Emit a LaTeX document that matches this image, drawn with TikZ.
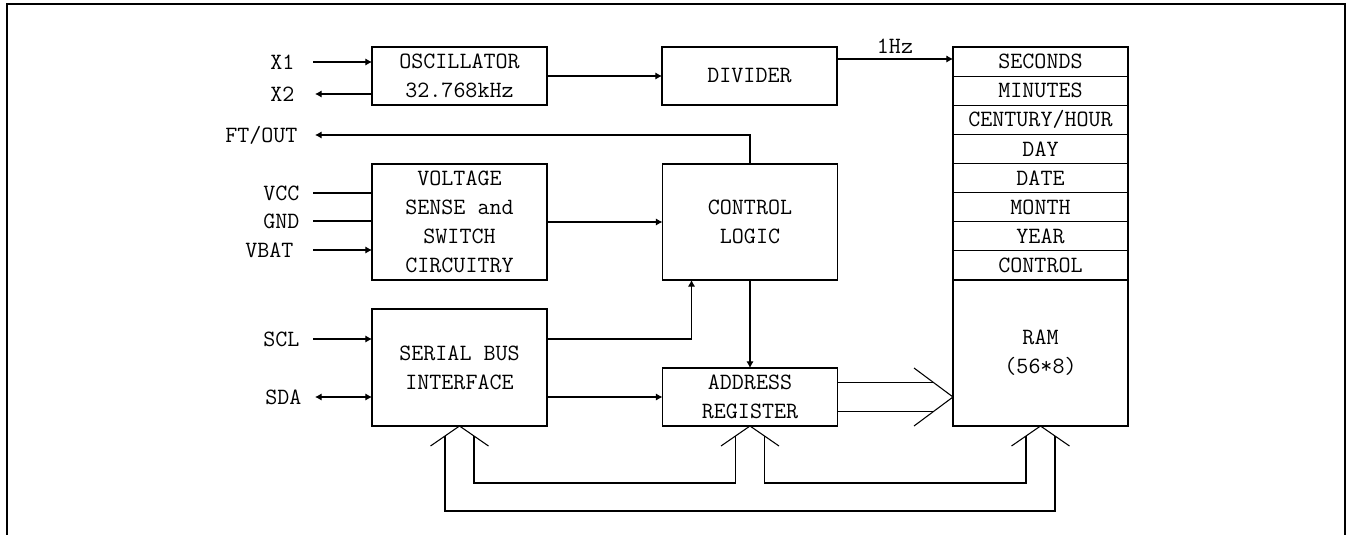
\documentclass[tikz,border=0pt]{standalone}
\usepackage{fontspec}
\usetikzlibrary{arrows.meta,calc}
\newdimen\pxu \pxu=0.75pt
\newcommand\dglbl{\ttfamily\fontsize{17.5}{21.75}\selectfont}
\begin{document}
\begin{tikzpicture}[x=0.75pt,y=-0.75pt,line width=0.8pt,
  box/.style={draw,inner sep=0pt,outer sep=0pt,minimum width=175\pxu,align=center,font=\dglbl},
  lbl/.style={font=\dglbl,inner sep=0pt},
  arr/.style={-{Latex[length=5pt,width=5.5pt]}},
  darr/.style={{Latex[length=5pt,width=5.5pt]}-{Latex[length=5pt,width=5.5pt]}},
  frame/.style={line width=1.5pt}]
\useasboundingbox (0,0) rectangle (1347,535);
\draw[frame] (7,535) -- (7,4) -- (1345,4) -- (1345,535);

% blocks
\node[box,minimum height=58\pxu] (osc) at (459.5,76) {OSCILLATOR\\32.768kHz};
\node[box,minimum height=58\pxu] (div) at (749.5,76) {DIVIDER};
\node[box,minimum height=116\pxu] (volt) at (459.5,222) {VOLTAGE\\SENSE and\\SWITCH\\CIRCUITRY};
\node[box,minimum height=116\pxu] (ctrl) at (750,222) {CONTROL\\LOGIC};
\node[box,minimum height=117\pxu] (ser) at (459.5,367.5) {SERIAL BUS\\INTERFACE};
\node[box,minimum height=58\pxu] (addr) at (750,397) {ADDRESS\\REGISTER};
\foreach \t [count=\i] in {SECONDS,MINUTES,CENTURY/HOUR,DAY,DATE,MONTH,YEAR,CONTROL}
  \node[box,minimum height=29.125\pxu] (r\i) at (1040.5,{47+29.125*(\i-0.5)}) {\t};
\node[box,minimum height=146\pxu] (ram) at (1040.5,353) {RAM\\(56*8)};

% pins
\coordinate (px1) at (313,62);  \node[lbl,anchor=east] (lx1) at (295,62) {X1};
\coordinate (px2) at (315,94);  \node[lbl,anchor=east] (lx2) at (295,94) {X2};
\coordinate (pft) at (315,135); \node[lbl,anchor=east] (lft) at (298,135) {FT/OUT};
\coordinate (pvc) at (313,193); \node[lbl,anchor=east] (lvc) at (300,193) {VCC};
\coordinate (pgn) at (313,221); \node[lbl,anchor=east] (lgn) at (300,221) {GND};
\coordinate (pvb) at (313,250); \node[lbl,anchor=east] (lvb) at (294,250) {VBAT};
\coordinate (psc) at (313,339); \node[lbl,anchor=east] (lsc) at (300,339) {SCL};
\coordinate (psd) at (315,397); \node[lbl,anchor=east] (lsd) at (302,397) {SDA};

\draw[arr] (px1) -- (px1 -| osc.west);
\draw[arr] (px2 -| osc.west) -- (px2);
\draw (pvc) -- (pvc -| volt.west);
\draw (pgn) -- (pgn -| volt.west);
\draw[arr] (pvb) -- (pvb -| volt.west);
\draw[arr] (psc) -- (psc -| ser.west);
\draw[darr] (psd) -- (psd -| ser.west);

% internal connectors
\draw[arr] (osc) -- (div);
\coordinate (hz) at (900,59);
\draw[arr] (div.east |- hz) -- (r1.west |- hz);
\node[lbl] (hzl) at (895,46) {1Hz};
\draw[arr] (ctrl.north) |- (pft);
\draw[arr] (volt.east |- ctrl.west) -- (ctrl.west);
\draw[arr] (ser.east |- psc) -| ($(ctrl.south west)+(29,0)$);
\draw[arr] (ctrl.south) -- (addr.north);
\draw[arr] (ser.east |- addr.west) -- (addr.west);

% bus arrow address -> RAM
\coordinate (tA) at (ram.west |- addr.west);
\draw (tA) ++(-39,-29) -- (tA) -- ++(-39,29);
\draw ($(addr.east)+(0,-14.5)$) -- ($(tA)+(-19.5,-14.5)$);
\draw ($(addr.east)+(0,14.5)$) -- ($(tA)+(-19.5,14.5)$);

% bottom buses
\foreach \n in {ser,addr,ram}
  \draw ($(\n.south)+(-29,20)$) -- (\n.south) -- ++(29,20);
\draw ($(ser.south)+(14.5,10)$) |- ($(addr.south)+(-14.5,57)$) -- ($(addr.south)+(-14.5,10)$);
\draw ($(addr.south)+(14.5,10)$) |- ($(ram.south)+(-14.5,57)$) -- ($(ram.south)+(-14.5,10)$);
\draw ($(ser.south)+(-14.5,10)$) |- ($(ram.south)+(14.5,85)$) -- ($(ram.south)+(14.5,10)$);
\end{tikzpicture}
\end{document}
